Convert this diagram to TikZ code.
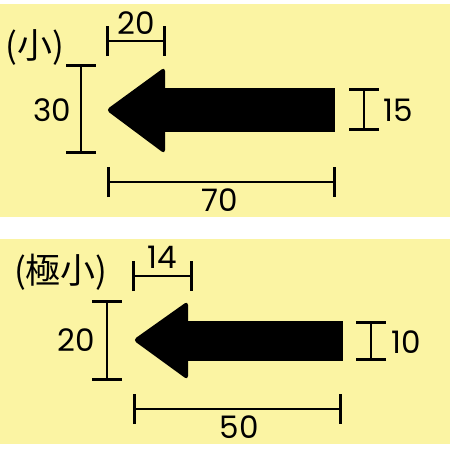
\documentclass[tikz,border=0pt]{standalone}
\usepackage{fontspec}
\setmainfont{Noto Sans CJK JP}
\newfontfamily\digitfont{Poppins}
\usetikzlibrary{arrows.meta}
\definecolor{paneltone}{RGB}{251,244,163}
\tikzset{
  panel/.style={fill=paneltone},
  arrowbody/.style={fill=black},
  dimline/.style={line width=2.6pt, {Bar[width=30pt]}-{Bar[width=30pt]}},
  dimlabel/.style={inner sep=0pt, font=\digitfont\fontsize{31}{31}\selectfont},
  sizename/.style={inner sep=0pt, font=\fontsize{35}{35}\selectfont},
}
\begin{document}
\begin{tikzpicture}[x=1pt, y=-1pt]
\useasboundingbox (0,0) rectangle (450,450);
\fill[panel] (0,4) rectangle (450,217);
\fill[panel] (0,239) rectangle (450,444);

% small
\node[sizename] (smallname) at (35,47) {(小)};
\path (106,110) coordinate (tipA);
\fill[arrowbody, rounded corners=4pt] (tipA) -- (165,67) -- (165,154) -- cycle;
\fill[arrowbody] (160,88) rectangle (335,132);
\path (106,41) coordinate (headAl) (166,41) coordinate (headAr);
\draw[dimline] (headAl) -- (headAr);
\node[dimlabel] (headAtxt) at (136,23) {20};
\path (81,64) coordinate (spanAt) (81,154) coordinate (spanAb);
\draw[dimline] (spanAt) -- (spanAb);
\node[dimlabel] (spanAtxt) at (52,110) {30};
\path (364,88) coordinate (shaftAt) (364,131) coordinate (shaftAb);
\draw[dimline] (shaftAt) -- (shaftAb);
\node[dimlabel] (shaftAtxt) at (398,110) {15};
\path (107,182) coordinate (lenAl) (336,182) coordinate (lenAr);
\draw[dimline] (lenAl) -- (lenAr);
\node[dimlabel] (lenAtxt) at (220,200) {70};

% extra small
\node[sizename] (tinyname) at (61,272) {(極小)};
\path (133,340) coordinate (tipB);
\fill[arrowbody, rounded corners=4pt] (tipB) -- (188,301) -- (188,380) -- cycle;
\fill[arrowbody] (183,321) rectangle (343,361);
\path (132,276) coordinate (headBl) (193,276) coordinate (headBr);
\draw[dimline] (headBl) -- (headBr);
\node[dimlabel] (headBtxt) at (162,257) {14};
\path (107,300) coordinate (spanBt) (107,381) coordinate (spanBb);
\draw[dimline] (spanBt) -- (spanBb);
\node[dimlabel] (spanBtxt) at (76,340) {20};
\path (371,321) coordinate (shaftBt) (371,361) coordinate (shaftBb);
\draw[dimline] (shaftBt) -- (shaftBb);
\node[dimlabel] (shaftBtxt) at (406,342) {10};
\path (133,409) coordinate (lenBl) (342,409) coordinate (lenBr);
\draw[dimline] (lenBl) -- (lenBr);
\node[dimlabel] (lenBtxt) at (239,427) {50};
\end{tikzpicture}
\end{document}
